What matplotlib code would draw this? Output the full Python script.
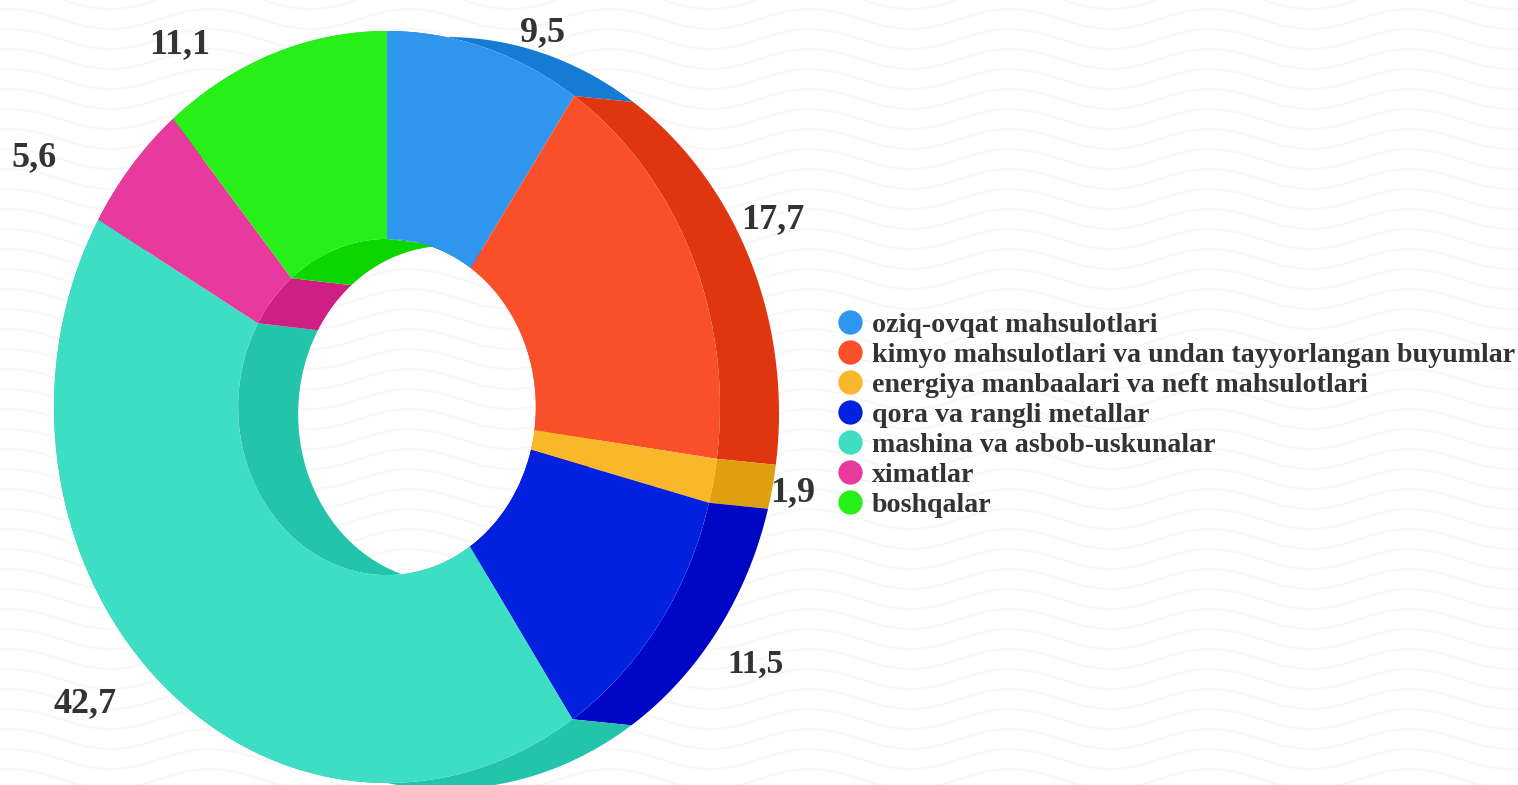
import matplotlib
matplotlib.use('Agg')
import matplotlib.pyplot as plt
from matplotlib.lines import Line2D
import numpy as np

categories = ['oziq-ovqat mahsulotlari',
              'kimyo mahsulotlari va undan tayyorlangan buyumlar',
              'energiya manbaalari va neft mahsulotlari',
              'qora va rangli metallar',
              'mashina va asbob-uskunalar',
              'ximatlar',
              'boshqalar']
values = [9.5, 17.7, 1.9, 11.5, 42.7, 5.6, 11.1]
value_labels = ['9,5', '17,7', '1,9', '11,5', '42,7', '5,6', '11,1']

colors = ['#3095EE', '#F95029', '#F9B829', '#0221DE', '#3EDEC4', '#E83A9E', '#26F018']
dark_colors = ['#167BD4', '#DF3610', '#DFA010', '#0007C4', '#24C4AA', '#CE2084', '#0CD600']
label_offsets = [(58, 15), (81, 35), (79, -12), (97, -39), (-75, -22), (-98, 8), (-94, 9)]
label_sizes = [26, 26, 26, 24, 26, 26, 26]

W, H = 1518, 785
cx, cy, rx, ry = 387, 407, 333, 376   # ellipse of the front face, pixels
inner = 0.447
text_color = '#333333'

plt.rcParams['font.family'] = ['Liberation Serif', 'DejaVu Serif']

fig = plt.figure(figsize=(W / 100, H / 100), dpi=100)
ax = fig.add_axes([0, 0, 1, 1])


def side_wall(t0, t1, radius, color, depth_x, depth_y):
    t = np.linspace(t0, t1, 80)
    x = radius * np.sin(t)
    y = radius * np.cos(t)
    ax.fill(np.r_[x, x[::-1] + depth_x / rx], np.r_[y, y[::-1] - depth_y / ry],
            color=color, lw=0, zorder=2)


# background wave pattern
xw = np.linspace(0, W, 500)
for y0 in range(-1, H + 20, 20):
    yw = y0 - 10 * np.cos(2 * np.pi * (xw - 1010) / 200)
    ax.plot((xw - cx) / rx, (cy - yw) / ry, color='#f8f8f8', lw=1.6, zorder=0)

edges = np.r_[0, np.cumsum(values)] / np.sum(values) * 2 * np.pi

for i in range(len(values)):
    side_wall(edges[i], edges[i + 1], 1, dark_colors[i], 59, 6)
    side_wall(edges[i], edges[i + 1], inner, dark_colors[i], 60, 7)

wedges, _ = ax.pie(values, colors=colors, startangle=90, counterclock=False,
                   radius=1, wedgeprops=dict(width=1 - inner, lw=0, zorder=3))

for i, txt in enumerate(value_labels):
    mid = (edges[i] + edges[i + 1]) / 2
    ax.annotate(txt, xy=(np.sin(mid), np.cos(mid)), xytext=label_offsets[i],
                textcoords='offset pixels', ha='center', va='center',
                fontsize=label_sizes[i], fontweight='bold', color=text_color, zorder=5)

handles = [Line2D([], [], ls='none', marker='o', ms=17.5, mfc=c, mec=c, mew=0) for c in colors]
ax.legend(handles, categories, loc='center left', bbox_to_anchor=(836 / W, 1 - 415 / H),
          frameon=False, prop=dict(size=20.15, weight='bold'), labelcolor=text_color,
          labelspacing=0.161, handlelength=1.0, handletextpad=0.29,
          borderpad=0, borderaxespad=0)

ax.set_aspect('auto')
ax.set_xlim(-cx / rx, (W - cx) / rx)
ax.set_ylim((cy - H) / ry, cy / ry)
ax.axis('off')
fig.savefig('out.png', dpi=100, facecolor='white')
